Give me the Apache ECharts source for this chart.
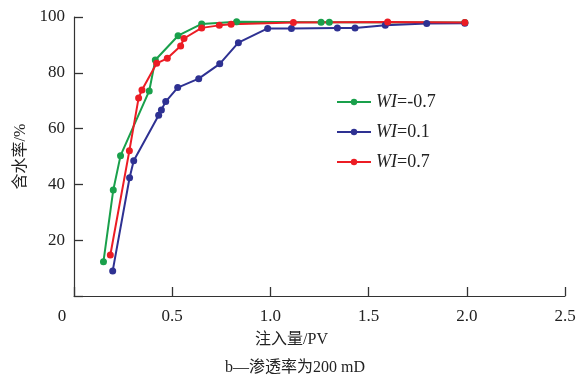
<!DOCTYPE html>
<html>
<head>
<meta charset="utf-8">
<script src="https://cdn.jsdelivr.net/npm/echarts@6/dist/echarts.min.js"></script>
<style>
  html, body { margin: 0; padding: 0; background: #fff; }
  #main { width: 579px; height: 376px; }
</style>
</head>
<body>
<div id="main"></div>
<script>
// injection volume (PV) vs water cut (%)
const greenX = [0.15, 0.2, 0.237, 0.383, 0.414, 0.53, 0.65, 0.828, 1.258, 1.30, 1.99];
const greenY = [12.3, 38.0, 50.3, 73.5, 84.6, 93.3, 97.5, 98.3, 98.1, 98.1, 98.0];

const blueX = [0.197, 0.283, 0.304, 0.431, 0.445, 0.467, 0.528, 0.635, 0.742, 0.837, 0.986, 1.107, 1.341, 1.431, 1.585, 1.796, 1.99];
const blueY = [9.0, 42.4, 48.5, 64.8, 66.7, 69.7, 74.7, 77.9, 83.2, 90.8, 95.9, 95.9, 96.1, 96.1, 97.0, 97.7, 97.8];

const redX = [0.185, 0.282, 0.329, 0.346, 0.421, 0.475, 0.543, 0.56, 0.65, 0.74, 0.80, 1.117, 1.597, 1.99];
const redY = [14.7, 52.1, 71.0, 73.8, 83.4, 85.2, 89.6, 92.3, 96.1, 97.0, 97.4, 98.0, 98.2, 98.0];

const seriesNames = ['WI=-0.7', 'WI=0.1', 'WI=0.7'];

const serif = 'Liberation Serif, Noto Sans CJK SC, serif';
const zip = (xs, ys) => xs.map((x, i) => [x, ys[i]]);

const chart = echarts.init(document.getElementById('main'));

const makeLine = (name, data, color) => ({
  name: name,
  type: 'line',
  data: data,
  color: color,
  symbol: 'circle',
  symbolSize: 7,
  lineStyle: { width: 2 },
  animation: false
});

chart.setOption({
  backgroundColor: '#fff',
  title: {
    text: 'b—渗透率为200 mD',
    left: 290,
    textAlign: 'center',
    top: 355,
    textStyle: { fontFamily: serif, fontSize: 16, fontWeight: 'normal', color: '#222' }
  },
  grid: { left: 74, right: 14, top: 17, bottom: 80 },
  legend: {
    orient: 'vertical',
    left: 331,
    top: 88,
    itemWidth: 34,
    itemHeight: 8,
    itemGap: 12,
    data: seriesNames,
    formatter: function (n) {
      return '{i|WI}{n|' + n.slice(2) + '}';
    },
    textStyle: {
      fontFamily: serif,
      fontSize: 17,
      color: '#222',
      rich: {
        i: { fontFamily: serif, fontSize: 18, fontStyle: 'italic', color: '#222' },
        n: { fontFamily: serif, fontSize: 18, color: '#222' }
      }
    }
  },
  xAxis: {
    type: 'value',
    min: 0,
    max: 2.5,
    interval: 0.5,
    name: '注入量/PV',
    nameLocation: 'middle',
    nameGap: 36,
    nameTextStyle: { fontFamily: serif, fontSize: 16, color: '#222', padding: [0, 56, 0, 0] },
    splitLine: { show: false },
    axisLine: { show: true, lineStyle: { color: '#333', width: 1.2 } },
    axisTick: { show: true, inside: true, length: 9, lineStyle: { color: '#333', width: 1.3 } },
    axisLabel: {
      margin: 12,
      fontFamily: serif,
      fontSize: 17,
      color: '#222',
      formatter: function (v) {
        if (v === 0) return '{z|0}';
        return v.toFixed(1);
      },
      rich: { z: { fontFamily: serif, fontSize: 17, color: '#222', padding: [0, 24, 0, 0] } }
    }
  },
  yAxis: {
    type: 'value',
    min: 0,
    max: 100,
    interval: 20,
    name: '含水率/%',
    nameLocation: 'middle',
    nameGap: 45,
    nameTextStyle: { fontFamily: serif, fontSize: 16, color: '#222' },
    splitLine: { show: false },
    axisLine: { show: true, lineStyle: { color: '#333', width: 1.2 } },
    axisTick: { show: true, inside: true, length: 9, lineStyle: { color: '#333', width: 1.3 } },
    axisLabel: {
      margin: 9,
      fontFamily: serif,
      fontSize: 17,
      color: '#222',
      formatter: function (v) { return v === 0 ? '' : String(v); }
    }
  },
  series: [
    makeLine(seriesNames[0], zip(greenX, greenY), '#19a04b'),
    makeLine(seriesNames[1], zip(blueX, blueY), '#2e3192'),
    makeLine(seriesNames[2], zip(redX, redY), '#ec1c24')
  ]
});
</script>
</body>
</html>
